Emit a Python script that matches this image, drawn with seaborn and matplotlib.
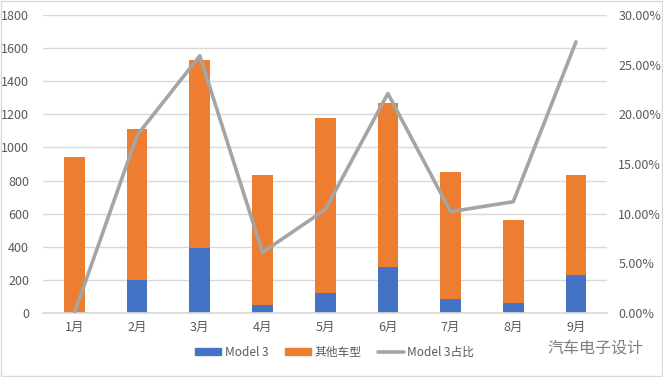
import matplotlib
matplotlib.use('Agg')
import matplotlib.pyplot as plt
import seaborn as sns
import numpy as np
from matplotlib.lines import Line2D
from matplotlib.patches import Patch

months = ['1月', '2月', '3月', '4月', '5月', '6月', '7月', '8月', '9月']
model3 = [0, 200, 392, 48, 121, 278, 85, 60, 229]
others = [942, 911, 1136, 785, 1057, 990, 766, 502, 604]
share = [0.0, 0.179, 0.259, 0.061, 0.104, 0.221, 0.102, 0.112, 0.273]

sns.set_theme(style="white")
plt.rcParams['font.family'] = ['Noto Sans CJK SC', 'DejaVu Sans']

blue = "#4472C4"
orange = "#ED7D31"
grey = "#A5A5A5"
txt = "#595959"

fig = plt.figure(figsize=(6.63, 3.77), dpi=100)
ax = fig.add_axes([0.065, 0.170, 0.851, 0.790])

sns.barplot(x=months, y=model3, color=blue, width=0.33, saturation=1, linewidth=0, ax=ax)
sns.barplot(x=months, y=others, bottom=model3, color=orange, width=0.33, saturation=1, linewidth=0, ax=ax)
ax.set_ylim(0, 1800)
ax.set_yticks(range(0, 1801, 200))
ax.set_xlim(-0.5, 8.5)
ax.grid(axis='y', color="#D9D9D9", linewidth=1)
ax.set_axisbelow(True)

ax2 = ax.twinx()
sns.lineplot(x=list(range(len(months))), y=share, color=grey, linewidth=2.6, sort=False, ax=ax2)
ax2.set_ylim(0, 0.30)
ax2.set_yticks(np.arange(0, 0.301, 0.05))
ax2.set_yticklabels([f"{v:.2%}" for v in np.arange(0, 0.301, 0.05)])
ax2.set_xlim(-0.5, 8.5)

for a in (ax, ax2):
    for s in a.spines.values():
        s.set_visible(False)
    a.tick_params(length=0, labelsize=9, labelcolor=txt)
    a.set_xlabel("")
    a.set_ylabel("")
ax.spines['bottom'].set_visible(True)
ax.spines['bottom'].set_color("#D9D9D9")
ax.tick_params(axis='x', pad=6)
ax.tick_params(axis='y', pad=10)
ax2.tick_params(axis='y', pad=8)

handles = [Patch(color=blue), Patch(color=orange), Line2D([0], [0], color=grey, linewidth=2.6)]
fig.legend(handles, ['Model 3', '其他车型', 'Model 3占比'], loc='center', bbox_to_anchor=(0.505, 0.066),
           ncol=3, frameon=False, fontsize=8.5, labelcolor=txt, handlelength=2.2, handleheight=0.5,
           columnspacing=1.4, handletextpad=0.3)

fig.text(0.826, 0.075, "汽车电子设计", fontsize=11.5, color="#7F7F7F", va='center')

fig.patches.append(plt.Rectangle((0.002, 0.003), 0.996, 0.994, transform=fig.transFigure,
                                 fill=False, edgecolor="#D9D9D9", linewidth=1))

fig.savefig("out.png", dpi=100)
